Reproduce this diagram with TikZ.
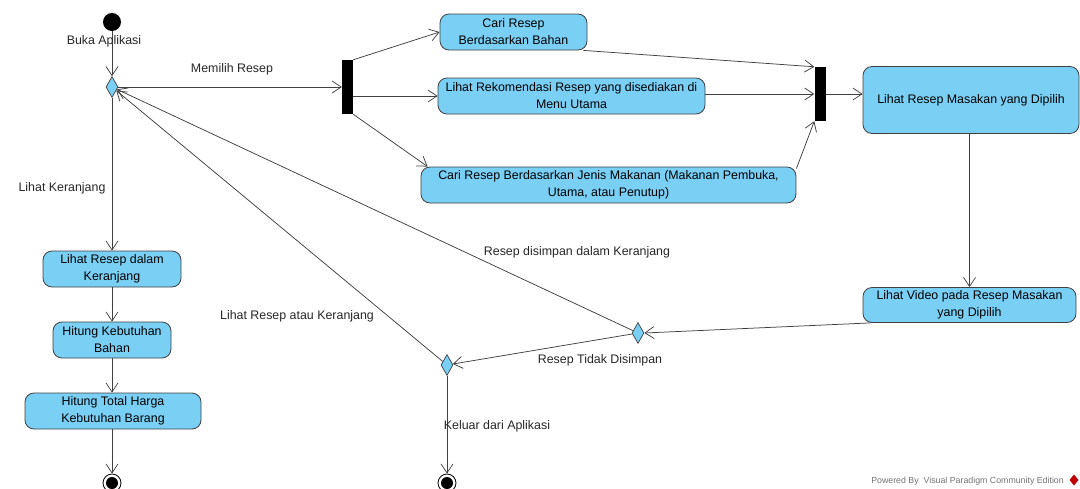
\documentclass[tikz,border=0pt]{standalone}
\usepackage{fontspec}
\setmainfont{Liberation Sans}
\usepackage{xcolor}
\usepackage{tikz}
\usetikzlibrary{shapes,arrows.meta,positioning}

\definecolor{actblue}{RGB}{122,207,245}
\definecolor{edgegray}{RGB}{64,64,64}

\tikzset{
  action/.style={draw=edgegray, fill=actblue, rounded corners=9pt, align=center,
    inner sep=0pt, font=\fontsize{12.4}{17}\selectfont, line width=0.8pt},
  choice/.style={diamond, draw=edgegray, fill=actblue, inner sep=0pt,
    minimum width=12pt, minimum height=21pt, line width=0.7pt},
  bar/.style={rectangle, fill=black, inner sep=0pt, minimum width=11pt, minimum height=54pt},
  startdot/.style={circle, fill=black, inner sep=0pt, minimum size=18pt},
  enddot/.style={circle, draw=black, fill=white, inner sep=0pt, minimum size=18pt, line width=0.8pt,
    path picture={\fill[black] (path picture bounding box.center) circle (6pt);}},
  flow/.style={draw=edgegray, line width=0.75pt, -{Straight Barb[length=9pt,width=12pt]}},
  guard/.style={font=\fontsize{12.4}{14}\selectfont, text=black!85, inner sep=0pt}
}

\begin{document}
\begin{tikzpicture}[x=1pt, y=-1pt]
\useasboundingbox (0,0) rectangle (1080,488);
\clip (0,0) rectangle (1080,488);
% Start, decisions and ends
\node[startdot] (start) at (112,22) {};
\node[choice] (menu) at (112,87) {};
\node[choice] (simpan) at (638,333) {};
\node[choice] (keluar) at (447,365) {};
\node[enddot] (end1) at (112,483) {};
\node[enddot] (end2) at (447,483) {};
% Fork and join bars
\node[bar] (fork) at (347.5,87) {};
\node[bar] (join) at (820,94) {};
% Actions
\node[action, minimum width=147pt, minimum height=36pt] (caribahan) at (513.5,32) {Cari Resep\\Berdasarkan Bahan};
\node[action, minimum width=267pt, minimum height=36pt] (rekomendasi) at (571.5,96) {Lihat Rekomendasi Resep yang disediakan di\\Menu Utama};
\node[action, minimum width=375pt, minimum height=36pt] (jenis) at (608.5,185) {Cari Resep Berdasarkan Jenis Makanan (Makanan Pembuka,\\Utama, atau Penutup)};
\node[action, minimum width=216pt, minimum height=67pt] (masakan) at (971,100) {Lihat Resep Masakan yang Dipilih};
\node[action, minimum width=213pt, minimum height=35pt] (video) at (969.5,305) {Lihat Video pada Resep Masakan\\yang Dipilih};
\node[action, minimum width=138pt, minimum height=36pt] (keranjang) at (112,269) {Lihat Resep dalam\\Keranjang};
\node[action, minimum width=118pt, minimum height=36pt] (hitungbahan) at (112,340) {Hitung Kebutuhan\\Bahan};
\node[action, minimum width=176pt, minimum height=36pt] (hitungharga) at (113,411) {Hitung Total Harga\\Kebutuhan Barang};
% Flows
\draw[flow] (start) -- (menu);
\draw[flow] (menu) -- (fork);
\draw[flow] (menu) -- (keranjang);
\draw[flow] (keranjang) -- (hitungbahan);
\draw[flow] (hitungbahan) -- (hitungbahan |- hitungharga.north);
\draw[flow] (end1 |- hitungharga.south) -- (end1);
\draw[flow] (fork.north east) -- (caribahan.west);
\draw[flow] (fork.east |- rekomendasi) -- (rekomendasi);
\draw[flow] (fork.south east) -- ([xshift=7pt]jenis.north west);
\draw[flow] ([xshift=-4pt]caribahan.south east) -- (join.north west);
\draw[flow] (rekomendasi.east |- join) -- (join.west);
\draw[flow] ([yshift=-2pt]jenis.north east) -- (join.south west);
\draw[flow] (join.east) -- (join.east -| masakan.west);
\draw[flow] (video |- masakan.south) -- (video.north);
\draw[flow] ([xshift=8pt]video.south west) -- (simpan.east);
\draw[flow] (simpan) -- (menu);
\draw[flow] (simpan) -- (keluar);
\draw[flow] (keluar) -- (menu);
\draw[flow] (keluar) -- (end2);
% Guard labels
\node[guard] (lbuka) at (104,41) {Buka Aplikasi};
\node[guard] (lmemilih) at (232,69) {Memilih Resep};
\node[guard] (lkeranjang) at (62,188) {Lihat Keranjang};
\node[guard] (ldisimpan) at (577,252) {Resep disimpan dalam Keranjang};
\node[guard] (latau) at (297,316) {Lihat Resep atau Keranjang};
\node[guard] (ltidak) at (600,360) {Resep Tidak Disimpan};
\node[guard] (lkeluar) at (497,426) {Keluar dari Aplikasi};
% Watermark
\node[font=\fontsize{8.8}{10}\selectfont, text=black!55, anchor=east, inner sep=0pt] (wm) at (1064,481) {Powered By\ \ Visual Paradigm Community Edition};
\node[diamond, fill=red!75!black, minimum width=9pt, minimum height=11pt, inner sep=0pt] (vplogo) at (1074,480) {};
\end{tikzpicture}
\end{document}
